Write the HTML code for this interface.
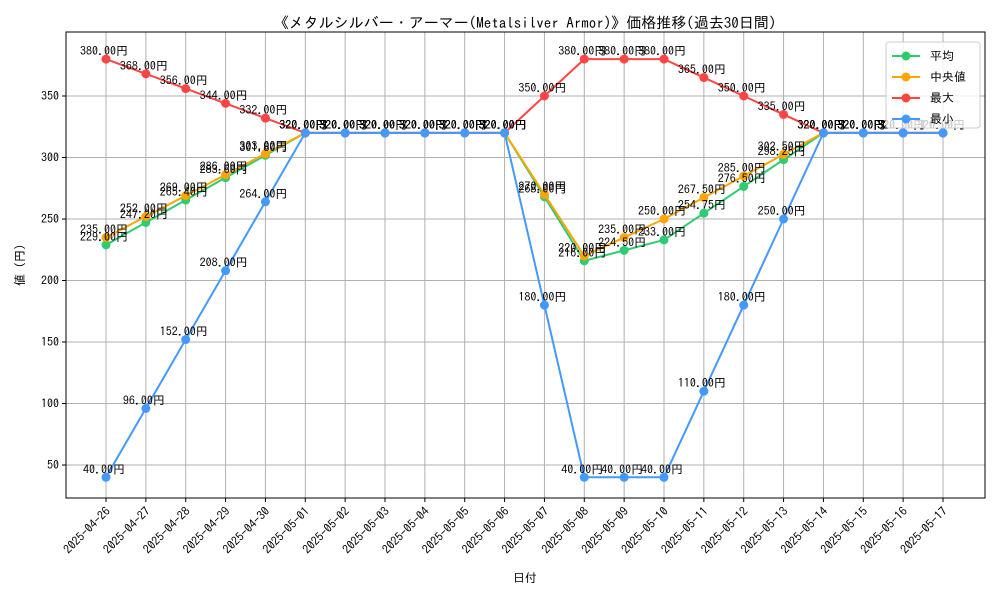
<!DOCTYPE html>
<html><head><meta charset="utf-8"><style>body{margin:0;background:#fff}svg{font-family:"IPAGothic","Liberation Mono","Noto Sans CJK JP",monospace}</style></head><body>
<svg id="c" width="1000" height="600"></svg>
<script>
const dates=["2025-04-26","2025-04-27","2025-04-28","2025-04-29","2025-04-30","2025-05-01","2025-05-02","2025-05-03","2025-05-04","2025-05-05","2025-05-06","2025-05-07","2025-05-08","2025-05-09","2025-05-10","2025-05-11","2025-05-12","2025-05-13","2025-05-14","2025-05-15","2025-05-16","2025-05-17"];
const avgVals=[229,247.2,265.4,283.6,301.8,320,320,320,320,320,320,268,216,224.5,233,254.75,276.5,298.25,320,320,320,320];
const medVals=[235,252,269,286,303,320,320,320,320,320,320,270,220,235,250,267.5,285,302.5,320,320,320,320];
const maxVals=[380,368,356,344,332,320,320,320,320,320,320,350,380,380,380,365,350,335,320,320,320,320];
const minVals=[40,96,152,208,264,320,320,320,320,320,320,180,40,40,40,110,180,250,320,320,320,320];
const yTicks=[50,100,150,200,250,300,350];
const seriesNames=["平均","中央値","最大","最小"];
const ns="http://www.w3.org/2000/svg",svg=document.getElementById('c');
const X0=66,X1=985,Y0=32,Y1=498;
const xs=i=>106+i*(943-106)/(dates.length-1);
const ys=v=>465-(v-50)*1.23;
function el(t,a,p){const e=document.createElementNS(ns,t);for(const k in a)e.setAttribute(k,a[k]);(p||svg).appendChild(e);return e;}
yTicks.forEach(v=>{const g=el('line',{x1:X0,x2:X1,y1:ys(v),y2:ys(v),stroke:'#b0b0b0','stroke-width':1});

el('line',{x1:X0-4,x2:X0,y1:ys(v),y2:ys(v),stroke:'#000'});
const t=el('text',{x:X0-7,y:ys(v)+4,'text-anchor':'end','font-size':12});t.textContent=v;
});
dates.forEach((d,i)=>{const g=el('line',{x1:xs(i),x2:xs(i),y1:Y0,y2:Y1,stroke:'#b0b0b0','stroke-width':1});

el('line',{x1:xs(i),x2:xs(i),y1:Y1,y2:Y1+4,stroke:'#000'});
const t=el('text',{x:0,y:0,'text-anchor':'end','font-size':12,transform:`translate(${xs(i)+5},${Y1+14}) rotate(-45)`});t.textContent=d;
});
const fr=el('rect',{x:X0,y:Y0,width:X1-X0,height:Y1-Y0,fill:'none',stroke:'#000'});

const series=[[avgVals,'#2ecc71','avg'],[medVals,'#ffa500','median'],[maxVals,'#ff4444','max'],[minVals,'#4499ff','min']];
series.forEach(([vals,col,nm])=>{
const pl=el('polyline',{points:vals.map((v,i)=>xs(i)+','+ys(v)).join(' '),fill:'none',stroke:col,'stroke-width':2});

vals.forEach((v,i)=>{const c=el('circle',{cx:xs(i),cy:ys(v),r:4.5,fill:col});
});});
series.forEach(([vals,col,nm])=>{vals.forEach((v,i)=>{const t=el('text',{x:xs(i)-2,y:ys(v)-4,'text-anchor':'middle','font-size':12});t.textContent=v.toFixed(2)+'円';
});});
const lg=el('g',{});
el('rect',{x:886,y:42,width:94,height:86,fill:'#fff','fill-opacity':0.8,stroke:'#ccc',rx:3},lg);
series.forEach(([v,col,nm],k)=>{const y=56+k*21;
el('line',{x1:892,x2:920,y1:y,y2:y,stroke:col,'stroke-width':2},lg);
el('circle',{cx:906,cy:y,r:4.5,fill:col},lg);
const t=el('text',{x:930,y:y+4,'font-size':12},lg);t.textContent=seriesNames[k];
});
const ti=el('text',{x:525,y:28,'text-anchor':'middle','font-size':15});ti.textContent='《メタルシルバー・アーマー(Metalsilver Armor)》価格推移(過去30日間)';

const xl=el('text',{x:525,y:582,'text-anchor':'middle','font-size':12});xl.textContent='日付';

const yl=el('text',{x:0,y:0,'text-anchor':'middle','font-size':12,transform:'translate(24,265) rotate(-90)'});yl.textContent='値 (円)';

</script></body></html>
